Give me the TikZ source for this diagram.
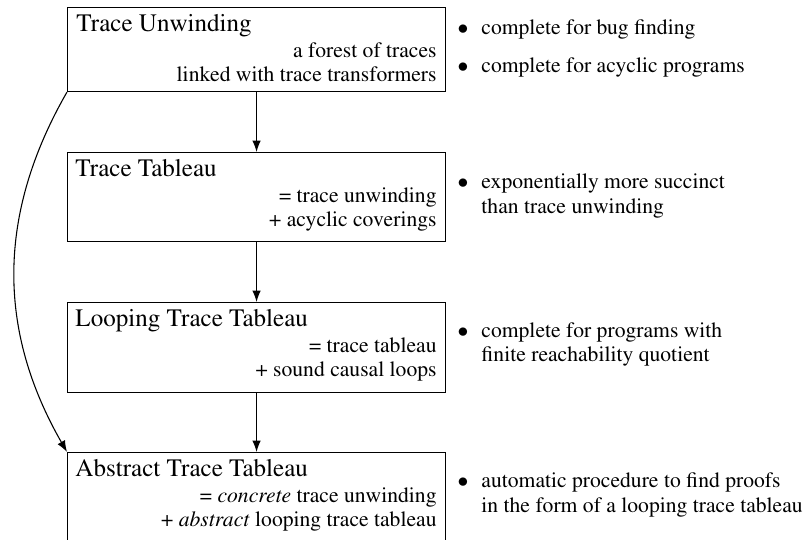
\documentclass[tikz,border=0pt]{standalone}
\usepackage[T1]{fontenc}
\usepackage{mathptmx}
\usetikzlibrary{arrows.meta}
\begin{document}
\begin{tikzpicture}[x=0.4624pt,y=-0.4624pt,
  box/.style={draw, line width=0.5pt, minimum width=174.8pt, inner sep=0pt, anchor=north west},
  ttl/.style={anchor=base west, inner sep=0pt, font=\fontsize{11.6}{14}\selectfont},
  sub/.style={anchor=base east, inner sep=0pt, font=\fontsize{10}{12}\selectfont},
  itm/.style={anchor=base west, inner sep=0pt, font=\fontsize{10}{12}\selectfont},
  bul/.style={anchor=base, inner sep=0pt, font=\fontsize{10}{12}\selectfont},
  arr/.style={-{Latex}, line width=0.5pt}]
\useasboundingbox (0,0) rectangle (811,540);
% boxes
\node[box, minimum height=38.84pt] (A) at (67,7) {};
\node[box, minimum height=41.15pt] (B) at (67,152) {};
\node[box, minimum height=41.6pt] (C) at (67,302) {};
\node[box, minimum height=41.6pt] (D) at (67,452) {};
% box texts
\node[ttl] (At) at (76,32) {Trace Unwinding};
\node[sub] (A1) at (437,58) {a forest of traces};
\node[sub] (A2) at (437,82) {linked with trace transformers};
\node[ttl] (Bt) at (75,177) {Trace Tableau};
\node[sub] (B1) at (437,203) {= trace unwinding};
\node[sub] (B2) at (437,227) {+ acyclic coverings};
\node[ttl] (Ct) at (75,327) {Looping Trace Tableau};
\node[sub] (C1) at (437,353) {= trace tableau};
\node[sub] (C2) at (437,377) {+ sound causal loops};
\node[ttl] (Dt) at (75,477) {Abstract Trace Tableau};
\node[sub] (D1) at (437,503) {= \textit{concrete} trace unwinding};
\node[sub] (D2) at (437,527) {+ \textit{abstract} looping trace tableau};
% bullets
\node[bul] (b1) at (463,35) {$\bullet$};
\node[itm] (i1) at (481,35) {complete for bug finding};
\node[bul] (b2) at (463,73) {$\bullet$};
\node[itm] (i2) at (481,73) {complete for acyclic programs};
\node[bul] (b3) at (463,189) {$\bullet$};
\node[itm] (i3a) at (481,189) {exponentially more succinct};
\node[itm] (i3b) at (481,214) {than trace unwinding};
\node[bul] (b4) at (463,338) {$\bullet$};
\node[itm] (i4a) at (481,338) {complete for programs with};
\node[itm] (i4b) at (481,362) {finite reachability quotient};
\node[bul] (b5) at (463,488) {$\bullet$};
\node[itm] (i5a) at (481,488) {automatic procedure to find proofs};
\node[itm] (i5b) at (481,513) {in the form of a looping trace tableau};
% connectors
\draw[arr] (A.south) -- (B.north);
\draw[arr] (B.south) -- (C.north);
\draw[arr] (C.south) -- (D.north);
\draw[arr] (A.south west) .. controls +(-70,122) and +(-70,-122) .. (D.north west);
\end{tikzpicture}
\end{document}
